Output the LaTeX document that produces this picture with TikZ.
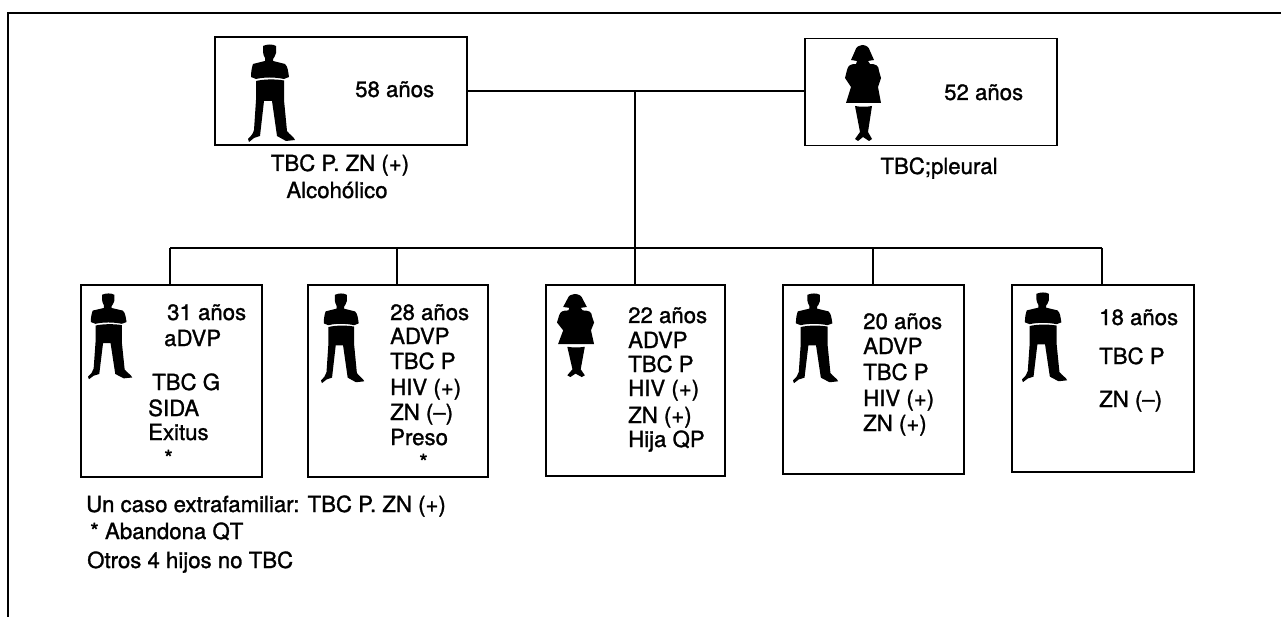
\documentclass[tikz,border=0pt]{standalone}
\usepackage{fontspec}
\setmainfont{TeX Gyre Heros}[FakeBold=1.2]
\tikzset{
  x=1pt,y=-1pt,
  box/.style={draw=black,line width=1.8pt,inner sep=0pt},
  rule/.style={draw=black,line width=2pt},
  lbl/.style={font=\fontsize{22.2}{24}\selectfont,inner sep=0pt,anchor=base west,text=black},
  lblc/.style={font=\fontsize{22.2}{24}\selectfont,inner sep=0pt,anchor=base,text=black},
  pers/.style={fill=black,draw=none}
}
% man figure, local box 47 x 98; #1=x #2=y #3=xscale #4=yscale
\newcommand{\manfig}[4]{%
 \begin{scope}[shift={(#1,#2)},x=#3pt,y=-#4pt]
  \fill[pers] (15,2) .. controls (19,0) and (25,0) .. (28,2) -- (28,9) .. controls (27,12) and (26,14) .. (25,15)
   -- (25,17) -- (37,20) .. controls (40,23) and (40,27) .. (41,33) -- (36,35)
   .. controls (27,33) and (16,33) .. (8,35) -- (3,33) .. controls (3,27) and (4,23) .. (5,20)
   -- (17,17) -- (17,14) .. controls (16,12) and (15,10) .. (15,8) -- cycle;
  \fill[pers] (8,37) .. controls (16,35) and (28,35) .. (36,36.5) -- (36,56) -- (39,87)
   .. controls (42,91) and (46,93) .. (47,96) -- (38,97) -- (29,92) -- (24,57) -- (16,57) -- (12,92) -- (6,94) -- (1,98) -- (0,95) .. controls (3,92) and (5,90) .. (6,86) -- (8,56) -- cycle;
 \end{scope}}
% woman figure, local box 36 x 96
\newcommand{\womanfig}[4]{%
 \begin{scope}[shift={(#1,#2)},x=#3pt,y=-#4pt]
  \fill[pers] (17,0) .. controls (21,0) and (24,2) .. (25,6) -- (29,15) -- (23,16) -- (25,19) .. controls (30,19) and (34,20) .. (34,26) -- (36,33) -- (33,42) -- (36,58) -- (1,58) -- (6,42) -- (0,33) -- (2,25) .. controls (3,20) and (6,19) .. (11,19) -- (12,16) -- (6,15) -- (10,6) .. controls (11,2) and (14,0) .. (17,0) -- cycle;
  \fill[pers] (10,61) .. controls (15,62) and (22,62) .. (27,61) -- (23,87) -- (27,94) -- (24,96) -- (18,92) -- (13,96) -- (10,94) -- (15,87) -- cycle;
 \end{scope}}
\begin{document}
\begin{tikzpicture}
\useasboundingbox (0,0) rectangle (1281,617);
\fill[white] (0,0) rectangle (1281,617);
% frame
\coordinate (fa) at (8,617); \coordinate (fb) at (8,13); \coordinate (fc) at (1281,13);
\draw[rule] (fa) -- (fb) -- (fc);
% boxes
\node[box,minimum width=252pt,minimum height=108pt] (dad) at (341,91) {};
\node[box,minimum width=252pt,minimum height=107pt] (mom) at (931,92) {};
\node[box,minimum width=181pt,minimum height=192pt] (c1) at (171.5,381) {};
\node[box,minimum width=180pt,minimum height=192pt] (c2) at (398,381) {};
\node[box,minimum width=179pt,minimum height=191pt] (c3) at (635.5,380.5) {};
\node[box,minimum width=181pt,minimum height=189pt] (c4) at (873.5,379.5) {};
\node[box,minimum width=182pt,minimum height=187pt] (c5) at (1103,378.5) {};
\coordinate (junc) at (635,91);
\coordinate (bus) at (635,248);
\coordinate (b1) at (170,248); \coordinate (b5) at (1102,248);
\coordinate (b2) at (397,248); \coordinate (b4) at (873,248);
\draw[rule] (dad.east) -- (mom.west |- dad.east);
\draw[rule] (junc) -- (bus);
\draw[rule] (b1) -- (b5);
\draw[rule] (b1) -- (b1 |- c1.north);
\draw[rule] (b2) -- (b2 |- c2.north);
\draw[rule] (bus) -- (bus |- c3.north);
\draw[rule] (b4) -- (b4 |- c4.north);
\draw[rule] (b5) -- (b5 |- c5.north);
% figures
\manfig{248}{44}{1}{1}
\womanfig{845}{45}{1}{1}
\manfig{88}{293}{.94}{.88}
\manfig{321}{293}{.92}{.92}
\womanfig{557}{294}{1.03}{.865}
\manfig{793}{293}{.96}{.92}
\manfig{1022}{292}{.96}{.92}
% texts
\node[lbl] (t1) at (355,97) {58 años};
\node[lbl] (t2) at (944,100) {52 años};
\node[lblc] (t3) at (340,171) {TBC P. ZN (+)};
\node[lblc] (t4) at (337,198) {Alcohólico};
\node[lblc] (t5) at (939,174) {TBC;pleural};
\node[lbl] (a1) at (167,320) {31 años};
\node[lbl] (a2) at (164,346) {aDVP};
\node[lbl] (a3) at (152,390) {TBC G};
\node[lbl] (a4) at (148,416) {SIDA};
\node[lbl] (a5) at (148,440) {Exitus};
\node[lbl] (a6) at (164,466) {*};
\node[lbl] (b1t) at (390,320) {28 años};
\node[lbl] (b2t) at (390,344) {ADVP};
\node[lbl] (b3t) at (390,369) {TBC P};
\node[lbl] (b4t) at (390,395) {HIV (+)};
\node[lbl] (b5t) at (390,420) {ZN (--)};
\node[lbl] (b6t) at (390,445) {Preso};
\node[lbl] (b7t) at (419,470) {*};
\node[lbl] (c1t) at (628,323) {22 años};
\node[lbl] (c2t) at (628,348) {ADVP};
\node[lbl] (c3t) at (628,372) {TBC P};
\node[lbl] (c4t) at (628,396) {HIV (+)};
\node[lbl] (c5t) at (628,423) {ZN (+)};
\node[lbl] (c6t) at (628,447) {Hija QP};
\node[lbl] (d1t) at (863,329) {20 años};
\node[lbl] (d2t) at (863,354) {ADVP};
\node[lbl] (d3t) at (863,380) {TBC P};
\node[lbl] (d4t) at (863,406) {HIV (+)};
\node[lbl] (d5t) at (863,431) {ZN (+)};
\node[lbl] (e1t) at (1099,325) {18 años};
\node[lbl] (e2t) at (1099,364) {TBC P};
\node[lbl] (e3t) at (1099,407) {ZN (--)};
\node[lbl] (n1) at (86,512) {Un caso extrafamiliar: TBC P. ZN (+)};
\node[lbl] (n2) at (90,539) {* Abandona QT};
\node[lbl] (n3) at (87,568) {Otros 4 hijos no TBC};
\end{tikzpicture}
\end{document}
